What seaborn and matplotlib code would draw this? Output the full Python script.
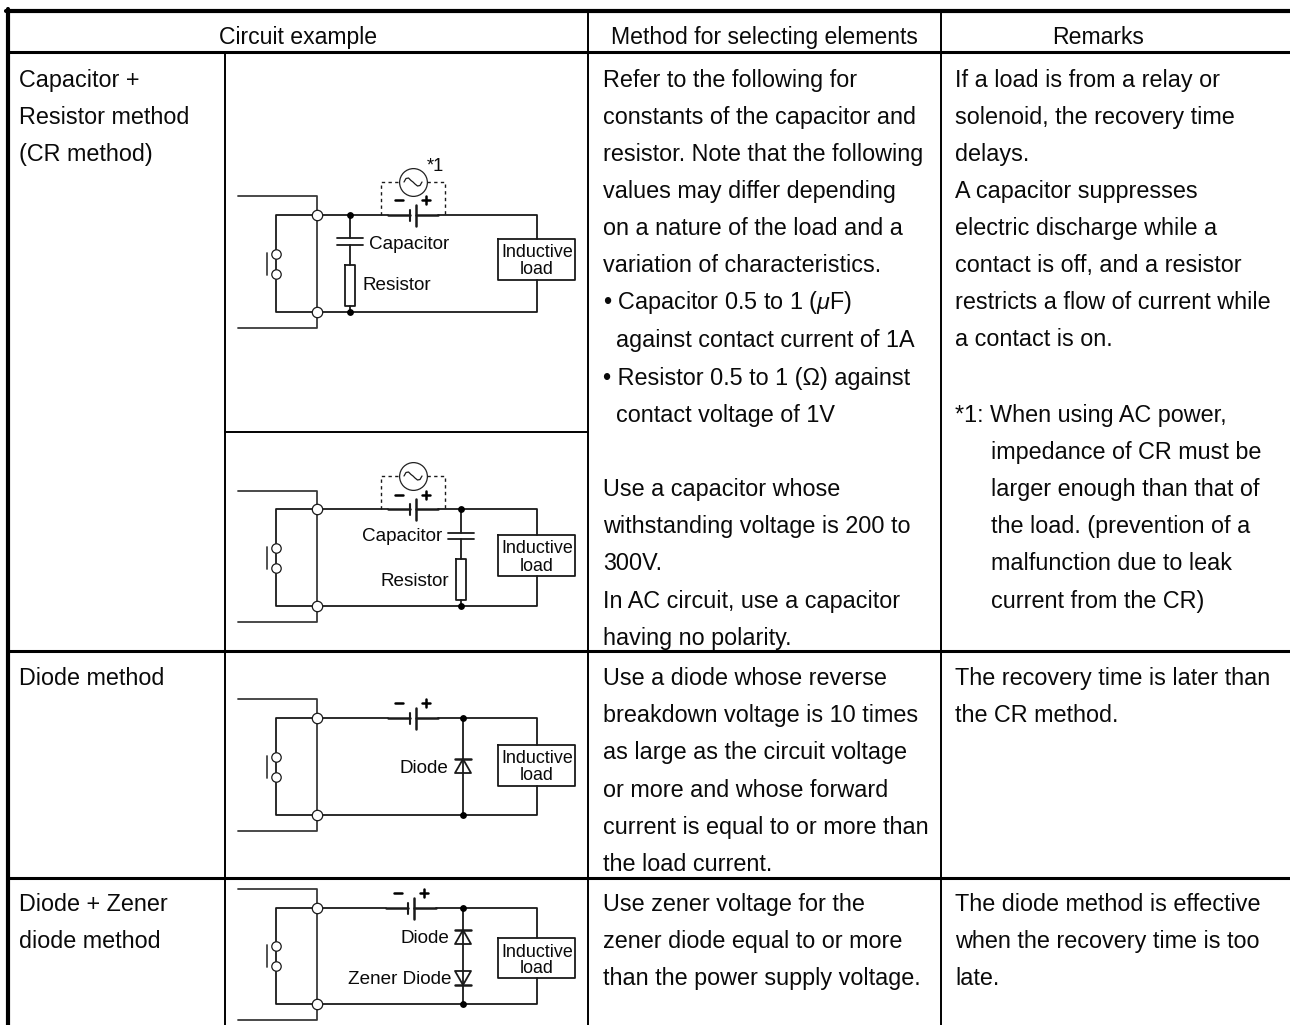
import pandas as pd
import matplotlib.pyplot as plt
import seaborn as sns

sns.set_theme(style='white')
plt.rcParams['font.family'] = ['Liberation Sans', 'DejaVu Sans']
plt.rcParams['mathtext.fontset'] = 'custom'
plt.rcParams['mathtext.rm'] = 'Liberation Sans'
plt.rcParams['mathtext.it'] = 'Liberation Sans:italic'

# table text
headers = ['Circuit example', 'Method for selecting elements', 'Remarks']

method_names = [
    ['Capacitor +', 'Resistor method', '(CR method)'],
    ['Diode method'],
    ['Diode + Zener', 'diode method'],
]

select_cr = [
    'Refer to the following for',
    'constants of the capacitor and',
    'resistor. Note that the following',
    'values may differ depending',
    'on a nature of the load and a',
    'variation of characteristics.',
    '\u2022 Capacitor 0.5 to 1 ($\\mu$F)',
    '  against contact current of 1A',
    '\u2022 Resistor 0.5 to 1 (\u03a9) against',
    '  contact voltage of 1V',
]
select_cr2 = [
    'Use a capacitor whose',
    'withstanding voltage is 200 to',
    '300V.',
    'In AC circuit, use a capacitor',
    'having no polarity.',
]
select_diode = [
    'Use a diode whose reverse',
    'breakdown voltage is 10 times',
    'as large as the circuit voltage',
    'or more and whose forward',
    'current is equal to or more than',
    'the load current.',
]
select_zener = [
    'Use zener voltage for the',
    'zener diode equal to or more',
    'than the power supply voltage.',
]

remarks_cr = [
    'If a load is from a relay or',
    'solenoid, the recovery time',
    'delays.',
    'A capacitor suppresses',
    'electric discharge while a',
    'contact is off, and a resistor',
    'restricts a flow of current while',
    'a contact is on.',
]
note_first = '*1: When using AC power,'
note_rest = [
    'impedance of CR must be',
    'larger enough than that of',
    'the load. (prevention of a',
    'malfunction due to leak',
    'current from the CR)',
]
remarks_diode = ['The recovery time is later than', 'the CR method.']
remarks_zener = ['The diode method is effective', 'when the recovery time is too', 'late.']

W, H = 1290, 1025
BODY = 16.8
SMALL = 12.9
LABEL = 13.6
INK = '#0a0a0a'

fig, ax = plt.subplots(figsize=(W / 100, H / 100), dpi=100)
fig.subplots_adjust(0, 0, 1, 1)


def wire(pts, lw=1.3, color='#1a1a1a', ls='-', z=2):
    df = pd.DataFrame(pts, columns=['x', 'y'])
    df['seg'] = 0
    sns.lineplot(data=df, x='x', y='y', units='seg', estimator=None, sort=False,
                 color=color, linewidth=lw, linestyle=ls, zorder=z, legend=False, ax=ax)


def dots(xs, ys, size, face='black', edge='black', lw=0.9, z=4):
    df = pd.DataFrame({'x': xs, 'y': ys})
    sns.scatterplot(data=df, x='x', y='y', s=size, color=face, edgecolor=edge,
                    linewidth=lw, zorder=z, legend=False, ax=ax)


def label(x, y, s, ha='left', size=LABEL):
    ax.text(x, y + 1.5, s, ha=ha, va='center', fontsize=size, color=INK)


def battery(y, shift=0):
    x1, x2 = 410 + shift, 416 + shift
    wire([(388 + shift, y), (x1, y)], lw=1.8)
    wire([(x2, y), (438 + shift, y)], lw=1.8)
    wire([(x1, y - 5), (x1, y + 6)], lw=1.5)
    wire([(x2, y - 10), (x2, y + 11)], lw=1.8)


def signs(y, x1=399, x2=426):
    wire([(x1 - 4, y), (x1 + 4, y)], lw=1.8, color='black')
    wire([(x2 - 4, y), (x2 + 4, y)], lw=1.8, color='black')
    wire([(x2, y - 4), (x2, y + 4)], lw=1.8, color='black')


def ac_source(y_top, y_wire):
    dash = (0, (2.4, 2.4))
    wire([(381, y_wire), (381, y_top), (399, y_top)], lw=1.0, ls=dash)
    wire([(427, y_top), (445, y_top), (445, y_wire)], lw=1.0, ls=dash)
    dots([413], [y_top], 400, face='white', edge='#222222', lw=0.9)
    sine_dx = [-9, -7, -4.5, -2, 0, 2, 4.5, 7, 9]
    sine_dy = [0, -3.5, -4, -1.5, 0, 2, 4, 3.5, 0]
    wire([(413 + a, y_top + b) for a, b in zip(sine_dx, sine_dy)], lw=0.9, z=5)


def base_circuit(top_in, top, bot, bot_in, c1, c2, box_top, box_bot, t1, t2, shift=0):
    # outer terminal wire
    wire([(238, top_in), (317, top_in), (317, bot_in), (238, bot_in)], color='#3a3a3a')
    # contact side
    wire([(317, top), (276, top), (276, bot), (317, bot)])
    dots([276, 276], [c1, c2], 46, face='white', edge='#1a1a1a')
    wire([(267, c1 - 1), (267, c2 + 1)], color='#444444')
    # main loop
    wire([(317, top), (388 + shift, top)])
    wire([(438 + shift, top), (537, top), (537, box_top)])
    wire([(537, box_bot), (537, bot), (317, bot)])
    wire([(498, box_top), (575, box_top), (575, box_bot), (498, box_bot), (498, box_top)])
    battery(top, shift)
    dots([317, 317], [top, bot], 56, face='white', edge='#1a1a1a', z=5)
    label(537, t1, 'Inductive', ha='center', size=SMALL)
    label(537, t2, 'load', ha='center', size=SMALL)


def cap_res(x, top, bot, p1, p2, r1, r2):
    wire([(x, top), (x, p1)])
    wire([(x - 13, p1), (x + 13, p1)])
    wire([(x - 13, p2), (x + 13, p2)])
    wire([(x, p2), (x, r1)])
    wire([(x - 5, r1), (x + 5, r1), (x + 5, r2), (x - 5, r2), (x - 5, r1)])
    wire([(x, r2), (x, bot)])
    dots([x, x], [top, bot], 16)


def diode(x, bar, base):
    wire([(x - 8, bar), (x + 8, bar)], lw=1.8)
    wire([(x, bar), (x - 8, base), (x + 8, base), (x, bar)])


# grid of the table
wire([(6, 11), (W, 11)], lw=3.0, color='black')
wire([(8, 9), (8, H)], lw=3.0, color='black')
for yy in [52, 651, 878]:
    wire([(8, yy), (W, yy)], lw=2.2, color='black')
wire([(225, 432), (588, 432)], lw=1.4, color='black')
wire([(225, 52), (225, H)], lw=1.4, color='black')
wire([(588, 11), (588, H)], lw=1.4, color='black')
wire([(941, 11), (941, H)], lw=1.4, color='black')

# header
ax.text(298, 44, headers[0], ha='center', va='baseline', fontsize=BODY - 0.2, color=INK)
ax.text(764, 44, headers[1], ha='center', va='baseline', fontsize=BODY - 0.2, color=INK)
ax.text(1098, 44, headers[2], ha='center', va='baseline', fontsize=BODY - 0.2, color=INK)


def block(x, ys, lines):
    for yy, s in zip(ys, lines):
        ax.text(x, yy + 8, s, ha='left', va='baseline', fontsize=BODY, color=INK)


y_cr = [79, 116, 153, 190, 227, 264, 301, 339, 377, 414]
block(19, y_cr, method_names[0])
block(19, [677], method_names[1])
block(19, [903, 940], method_names[2])

block(603, y_cr, select_cr)
block(603, [488, 525, 562, 600, 637], select_cr2)
block(603, [677, 714, 751, 789, 826, 863], select_diode)
block(603, [903, 940, 977], select_zener)

block(955, [79, 116, 153, 190, 227, 264, 301, 338], remarks_cr)
block(955, [414], [note_first])
block(991, [451, 488, 525, 562, 600], note_rest)
block(955, [677, 714], remarks_diode)
block(955, [903, 940, 977], remarks_zener)

# circuit 1, CR on the left
base_circuit(196, 215, 312, 328, 254, 274, 239, 280, 251, 268)
ac_source(182, 215)
signs(200)
label(427, 165, '*1', size=LABEL - 0.4)
cap_res(350, 215, 312, 238, 245, 265, 306)
label(369, 243, 'Capacitor')
label(363, 284, 'Resistor')

# circuit 2, CR on the right
base_circuit(491, 509, 606, 622, 548, 568, 535, 576, 547, 565)
ac_source(476, 509)
signs(495)
cap_res(461, 509, 606, 533, 539, 559, 600)
label(442, 535, 'Capacitor', ha='right')
label(449, 580, 'Resistor', ha='right')

# circuit 3, diode
base_circuit(699, 718, 815, 831, 757, 777, 745, 786, 757, 774)
signs(703)
wire([(463, 718), (463, 815)])
dots([463, 463], [718, 815], 16)
diode(463, 759, 773)
label(448, 767, 'Diode', ha='right')

# circuit 4, diode + zener
base_circuit(889, 908, 1004, 1020, 946, 966, 938, 978, 951, 967, shift=-2)
signs(893, 398, 424)
wire([(463, 908), (463, 1004)])
dots([463, 463], [908, 1004], 16)
diode(463, 930, 944)
diode(463, 985, 971)
label(449, 937, 'Diode', ha='right')
label(451, 978, 'Zener Diode', ha='right')

ax.set_xlim(0, W)
ax.set_ylim(H, 0)
ax.set_xlabel('')
ax.set_ylabel('')
ax.axis('off')
fig.savefig('out.png', dpi=100, facecolor='white')
